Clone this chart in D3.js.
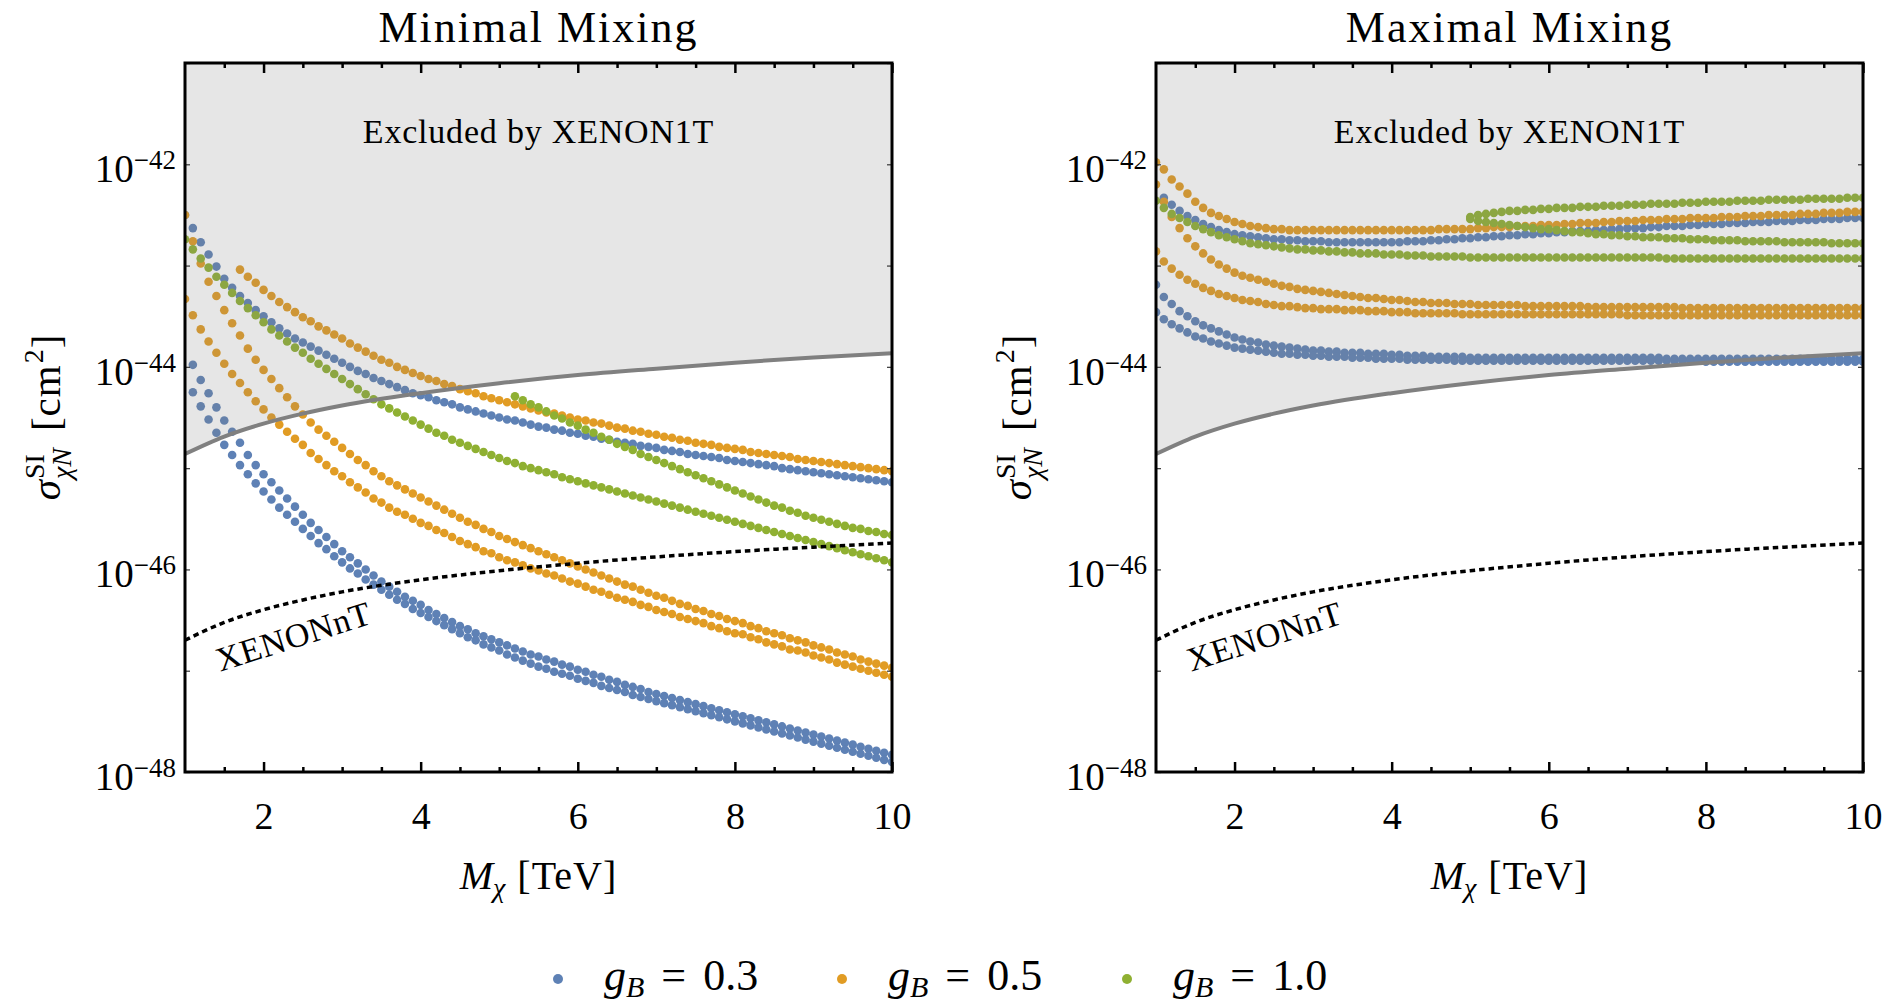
<!DOCTYPE html>
<html>
<head>
<meta charset="utf-8">
<title>Spin-independent cross section: minimal vs maximal mixing</title>
<style>
body {
  margin: 0;
  background: #fff;
}

svg {
  display: block;
}

text {
  font-family: "Liberation Serif", "DejaVu Serif", serif;
  fill: #000;
}

.frame {
  fill: none;
  stroke: #000;
  stroke-width: 3;
}

.xtick line {
  stroke: #000;
  stroke-width: 2.5;
}

.ytick line {
  stroke: #444;
  stroke-width: 1.3;
}
</style>
<script src="https://d3js.org/d3.v7.min.js"></script>
</head>
<body>
<script>
// mass grid of the scan, TeV
const masses = [
  1.0, 1.1, 1.2, 1.3, 1.4, 1.5, 1.6, 1.7, 1.8, 1.9,
  2.0, 2.1, 2.2, 2.3, 2.4, 2.5, 2.6, 2.7, 2.8, 2.9,
  3.0, 3.1, 3.2, 3.3, 3.4, 3.5, 3.6, 3.7, 3.8, 3.9,
  4.0, 4.1, 4.2, 4.3, 4.4, 4.5, 4.6, 4.7, 4.8, 4.9,
  5.0, 5.1, 5.2, 5.3, 5.4, 5.5, 5.6, 5.7, 5.8, 5.9,
  6.0, 6.1, 6.2, 6.3, 6.4, 6.5, 6.6, 6.7, 6.8, 6.9,
  7.0, 7.1, 7.2, 7.3, 7.4, 7.5, 7.6, 7.7, 7.8, 7.9,
  8.0, 8.1, 8.2, 8.3, 8.4, 8.5, 8.6, 8.7, 8.8, 8.9,
  9.0, 9.1, 9.2, 9.3, 9.4, 9.5, 9.6, 9.7, 9.8, 9.9,
  10.0
];

// log10(sigma / cm^2), minimal mixing
const minBlueA = [
  -42.50, -42.63, -42.77, -42.89, -43.01, -43.13, -43.22, -43.30, -43.37, -43.44,
  -43.50, -43.56, -43.62, -43.67, -43.72, -43.76, -43.80, -43.84, -43.88, -43.92,
  -43.96, -44.00, -44.04, -44.07, -44.11, -44.14, -44.17, -44.20, -44.23, -44.26,
  -44.28, -44.30, -44.33, -44.35, -44.37, -44.40, -44.42, -44.44, -44.46, -44.48,
  -44.50, -44.52, -44.53, -44.55, -44.57, -44.59, -44.60, -44.62, -44.63, -44.65,
  -44.66, -44.68, -44.69, -44.71, -44.72, -44.74, -44.75, -44.76, -44.78, -44.79,
  -44.80, -44.82, -44.83, -44.84, -44.86, -44.87, -44.88, -44.89, -44.90, -44.92,
  -44.93, -44.94, -44.95, -44.96, -44.97, -44.98, -45.00, -45.01, -45.02, -45.03,
  -45.04, -45.05, -45.06, -45.07, -45.08, -45.09, -45.10, -45.11, -45.12, -45.13,
  -45.14
];
const minBlueB = [
          -43.98, -44.13, -44.26, -44.40, -44.53, -44.64, -44.75, -44.87, -44.97,
  -45.06, -45.14, -45.22, -45.30, -45.38, -45.46, -45.54, -45.61, -45.68, -45.75,
  -45.82, -45.88, -45.94, -46.00, -46.06, -46.12, -46.17, -46.22, -46.27, -46.31,
  -46.35, -46.40, -46.44, -46.48, -46.52, -46.56, -46.59, -46.63, -46.66, -46.69,
  -46.72, -46.75, -46.78, -46.81, -46.84, -46.86, -46.89, -46.91, -46.94, -46.96,
  -46.99, -47.01, -47.04, -47.06, -47.09, -47.11, -47.14, -47.16, -47.18, -47.21,
  -47.23, -47.25, -47.27, -47.29, -47.31, -47.33, -47.35, -47.37, -47.39, -47.41,
  -47.43, -47.45, -47.47, -47.49, -47.51, -47.53, -47.55, -47.57, -47.59, -47.61,
  -47.63, -47.65, -47.67, -47.69, -47.71, -47.73, -47.75, -47.77, -47.79, -47.81,
  -47.83
];
const minBlueC = [
          -44.25, -44.39, -44.52, -44.65, -44.77, -44.87, -44.97, -45.06, -45.15,
  -45.23, -45.31, -45.39, -45.46, -45.53, -45.60, -45.67, -45.74, -45.80, -45.87,
  -45.93, -45.99, -46.04, -46.10, -46.15, -46.20, -46.25, -46.30, -46.34, -46.39,
  -46.43, -46.47, -46.51, -46.55, -46.59, -46.63, -46.67, -46.70, -46.74, -46.77,
  -46.80, -46.84, -46.87, -46.90, -46.93, -46.96, -46.98, -47.01, -47.03, -47.05,
  -47.08, -47.10, -47.12, -47.15, -47.17, -47.19, -47.21, -47.24, -47.26, -47.28,
  -47.30, -47.32, -47.34, -47.36, -47.38, -47.40, -47.42, -47.44, -47.46, -47.48,
  -47.50, -47.52, -47.54, -47.56, -47.58, -47.60, -47.62, -47.64, -47.66, -47.68,
  -47.70, -47.72, -47.74, -47.76, -47.78, -47.80, -47.82, -47.84, -47.86, -47.88,
  -47.90
];
const minOrangeA = [
                                                          -43.04, -43.11, -43.17,
  -43.24, -43.30, -43.36, -43.41, -43.46, -43.51, -43.55, -43.60, -43.64, -43.68,
  -43.72, -43.77, -43.81, -43.85, -43.89, -43.93, -43.96, -44.00, -44.03, -44.06,
  -44.09, -44.12, -44.14, -44.17, -44.19, -44.22, -44.24, -44.26, -44.29, -44.31,
  -44.33, -44.35, -44.37, -44.39, -44.41, -44.43, -44.45, -44.46, -44.48, -44.50,
  -44.52, -44.53, -44.55, -44.56, -44.58, -44.60, -44.61, -44.63, -44.64, -44.66,
  -44.67, -44.69, -44.70, -44.72, -44.73, -44.75, -44.76, -44.77, -44.79, -44.80,
  -44.81, -44.82, -44.84, -44.85, -44.86, -44.87, -44.88, -44.89, -44.91, -44.92,
  -44.93, -44.94, -44.95, -44.96, -44.97, -44.98, -44.99, -45.00, -45.01, -45.02,
  -45.03
];
const minOrangeB = [
  -42.50, -42.76, -42.98, -43.16, -43.30, -43.44, -43.57, -43.69, -43.82, -43.93,
  -44.03, -44.12, -44.21, -44.30, -44.39, -44.47, -44.55, -44.62, -44.68, -44.74,
  -44.80, -44.86, -44.92, -44.97, -45.03, -45.08, -45.13, -45.17, -45.21, -45.25,
  -45.29, -45.33, -45.37, -45.41, -45.45, -45.49, -45.53, -45.56, -45.60, -45.63,
  -45.67, -45.70, -45.73, -45.76, -45.79, -45.82, -45.85, -45.88, -45.91, -45.94,
  -45.97, -46.00, -46.03, -46.06, -46.09, -46.12, -46.15, -46.17, -46.20, -46.23,
  -46.26, -46.28, -46.31, -46.34, -46.36, -46.39, -46.41, -46.44, -46.46, -46.49,
  -46.51, -46.53, -46.56, -46.58, -46.61, -46.63, -46.65, -46.68, -46.70, -46.72,
  -46.75, -46.77, -46.79, -46.82, -46.84, -46.86, -46.89, -46.91, -46.93, -46.95,
  -46.97
];
const minOrangeC = [
  -43.33, -43.49, -43.63, -43.75, -43.86, -43.97, -44.07, -44.16, -44.25, -44.34,
  -44.42, -44.50, -44.57, -44.64, -44.71, -44.77, -44.85, -44.91, -44.97, -45.03,
  -45.08, -45.14, -45.19, -45.24, -45.30, -45.34, -45.39, -45.43, -45.46, -45.50,
  -45.54, -45.57, -45.61, -45.64, -45.68, -45.72, -45.75, -45.78, -45.82, -45.84,
  -45.88, -45.91, -45.93, -45.96, -45.99, -46.01, -46.04, -46.06, -46.09, -46.12,
  -46.14, -46.17, -46.20, -46.22, -46.25, -46.28, -46.30, -46.32, -46.35, -46.37,
  -46.40, -46.42, -46.44, -46.47, -46.49, -46.51, -46.53, -46.56, -46.58, -46.61,
  -46.63, -46.64, -46.67, -46.69, -46.72, -46.74, -46.76, -46.79, -46.80, -46.82,
  -46.85, -46.87, -46.89, -46.92, -46.94, -46.96, -46.98, -47.00, -47.02, -47.04,
  -47.06
];
const minGreenA = [
  -42.74, -42.84, -42.93, -43.02, -43.11, -43.19, -43.27, -43.35, -43.42, -43.49,
  -43.56, -43.63, -43.69, -43.75, -43.81, -43.86, -43.92, -43.97, -44.02, -44.07,
  -44.12, -44.17, -44.22, -44.27, -44.32, -44.37, -44.41, -44.45, -44.49, -44.53,
  -44.57, -44.61, -44.65, -44.68, -44.72, -44.75, -44.78, -44.81, -44.84, -44.87,
  -44.90, -44.93, -44.95, -44.98, -45.00, -45.02, -45.04, -45.06, -45.09, -45.11,
  -45.13, -45.15, -45.17, -45.19, -45.21, -45.23, -45.25, -45.27, -45.29, -45.31,
  -45.33, -45.35, -45.37, -45.39, -45.41, -45.43, -45.45, -45.47, -45.49, -45.51,
  -45.53, -45.55, -45.57, -45.59, -45.61, -45.63, -45.65, -45.67, -45.69, -45.71,
  -45.73, -45.75, -45.77, -45.79, -45.81, -45.83, -45.85, -45.87, -45.89, -45.91,
  -45.93
];
const minGreenB = [
                  -44.29, -44.33, -44.37, -44.40, -44.44, -44.48, -44.51, -44.55,
  -44.58, -44.62, -44.65, -44.69, -44.72, -44.76, -44.79, -44.82, -44.86, -44.89,
  -44.92, -44.95, -44.98, -45.01, -45.04, -45.07, -45.10, -45.13, -45.16, -45.19,
  -45.22, -45.25, -45.28, -45.31, -45.34, -45.37, -45.39, -45.42, -45.44, -45.47,
  -45.49, -45.51, -45.53, -45.55, -45.57, -45.59, -45.60, -45.62, -45.63, -45.65,
  -45.66
];

// log10(sigma / cm^2), maximal mixing
const maxBlueA = [
          -42.33, -42.40, -42.46, -42.51, -42.55, -42.59, -42.62, -42.65, -42.67,
  -42.69, -42.70, -42.71, -42.72, -42.73, -42.74, -42.74, -42.75, -42.75, -42.76,
  -42.76, -42.76, -42.77, -42.77, -42.77, -42.77, -42.77, -42.77, -42.77, -42.77,
  -42.77, -42.77, -42.76, -42.76, -42.76, -42.75, -42.75, -42.74, -42.74, -42.73,
  -42.73, -42.72, -42.72, -42.71, -42.71, -42.70, -42.70, -42.69, -42.69, -42.68,
  -42.68, -42.67, -42.67, -42.66, -42.66, -42.66, -42.65, -42.65, -42.64, -42.64,
  -42.63, -42.63, -42.63, -42.62, -42.62, -42.61, -42.61, -42.61, -42.60, -42.60,
  -42.59, -42.59, -42.59, -42.58, -42.58, -42.58, -42.57, -42.57, -42.57, -42.56,
  -42.56, -42.56, -42.55, -42.55, -42.55, -42.54, -42.54, -42.54, -42.53, -42.53,
  -42.53
];
const maxBlueB = [
  -43.19, -43.31, -43.38, -43.45, -43.50, -43.55, -43.59, -43.62, -43.65, -43.68,
  -43.71, -43.73, -43.75, -43.76, -43.78, -43.79, -43.80, -43.81, -43.82, -43.83,
  -43.84, -43.84, -43.85, -43.85, -43.86, -43.86, -43.86, -43.87, -43.87, -43.87,
  -43.88, -43.88, -43.89, -43.89, -43.89, -43.90, -43.90, -43.90, -43.90, -43.90,
  -43.91, -43.91, -43.91, -43.91, -43.91, -43.91, -43.91, -43.91, -43.91, -43.91,
  -43.91, -43.91, -43.91, -43.91, -43.91, -43.91, -43.91, -43.91, -43.91, -43.91,
  -43.91, -43.91, -43.91, -43.91, -43.91, -43.92, -43.92, -43.92, -43.92, -43.92,
  -43.92, -43.92, -43.92, -43.92, -43.92, -43.92, -43.92, -43.92, -43.92, -43.92,
  -43.92, -43.92, -43.92, -43.92, -43.92, -43.92, -43.92, -43.92, -43.92, -43.92,
  -43.92
];
const maxBlueC = [
  -43.46, -43.53, -43.58, -43.62, -43.66, -43.70, -43.72, -43.75, -43.77, -43.79,
  -43.81, -43.82, -43.83, -43.84, -43.85, -43.86, -43.87, -43.87, -43.88, -43.88,
  -43.89, -43.89, -43.90, -43.90, -43.90, -43.91, -43.91, -43.91, -43.92, -43.92,
  -43.92, -43.92, -43.93, -43.93, -43.93, -43.93, -43.93, -43.93, -43.94, -43.94,
  -43.94, -43.94, -43.94, -43.94, -43.94, -43.94, -43.94, -43.94, -43.94, -43.94,
  -43.94, -43.94, -43.94, -43.94, -43.94, -43.94, -43.94, -43.94, -43.94, -43.94,
  -43.94, -43.94, -43.94, -43.94, -43.94, -43.94, -43.94, -43.94, -43.94, -43.94,
  -43.95, -43.95, -43.95, -43.95, -43.95, -43.95, -43.95, -43.95, -43.95, -43.95,
  -43.95, -43.95, -43.95, -43.95, -43.95, -43.95, -43.95, -43.95, -43.95, -43.95,
  -43.95
];
const maxOrangeA = [
  -41.98, -42.05, -42.15, -42.22, -42.29, -42.37, -42.43, -42.48, -42.51, -42.54,
  -42.57, -42.59, -42.61, -42.62, -42.63, -42.64, -42.64, -42.65, -42.65, -42.65,
  -42.65, -42.65, -42.65, -42.65, -42.65, -42.65, -42.65, -42.65, -42.65, -42.65,
  -42.65, -42.65, -42.65, -42.65, -42.65, -42.65, -42.64, -42.64, -42.64, -42.64,
  -42.64, -42.63, -42.63, -42.62, -42.62, -42.62, -42.61, -42.61, -42.61, -42.60,
  -42.60, -42.60, -42.59, -42.59, -42.58, -42.58, -42.58, -42.57, -42.57, -42.56,
  -42.56, -42.56, -42.55, -42.55, -42.55, -42.54, -42.54, -42.54, -42.53, -42.53,
  -42.53, -42.53, -42.52, -42.52, -42.52, -42.51, -42.51, -42.51, -42.50, -42.50,
  -42.50, -42.50, -42.49, -42.49, -42.49, -42.48, -42.48, -42.48, -42.47, -42.47,
  -42.47
];
const maxOrangeB = [
  -42.20, -42.37, -42.52, -42.63, -42.73, -42.81, -42.88, -42.94, -42.99, -43.03,
  -43.07, -43.10, -43.12, -43.14, -43.16, -43.18, -43.20, -43.21, -43.23, -43.24,
  -43.25, -43.26, -43.27, -43.28, -43.29, -43.30, -43.31, -43.32, -43.32, -43.33,
  -43.34, -43.34, -43.35, -43.36, -43.36, -43.37, -43.37, -43.37, -43.38, -43.38,
  -43.38, -43.39, -43.39, -43.39, -43.39, -43.39, -43.39, -43.40, -43.40, -43.40,
  -43.40, -43.40, -43.40, -43.40, -43.40, -43.41, -43.41, -43.41, -43.41, -43.41,
  -43.41, -43.41, -43.41, -43.41, -43.41, -43.41, -43.41, -43.42, -43.42, -43.42,
  -43.42, -43.42, -43.42, -43.42, -43.42, -43.42, -43.42, -43.42, -43.42, -43.42,
  -43.42, -43.42, -43.42, -43.42, -43.42, -43.42, -43.42, -43.42, -43.42, -43.42,
  -43.42
];
const maxOrangeC = [
  -42.86, -42.96, -43.03, -43.09, -43.14, -43.18, -43.22, -43.25, -43.28, -43.30,
  -43.32, -43.34, -43.35, -43.36, -43.38, -43.39, -43.40, -43.40, -43.41, -43.42,
  -43.42, -43.43, -43.43, -43.43, -43.44, -43.44, -43.44, -43.45, -43.45, -43.45,
  -43.46, -43.46, -43.46, -43.47, -43.47, -43.47, -43.47, -43.47, -43.47, -43.48,
  -43.48, -43.48, -43.48, -43.48, -43.48, -43.48, -43.48, -43.48, -43.48, -43.48,
  -43.48, -43.48, -43.48, -43.48, -43.48, -43.48, -43.48, -43.48, -43.48, -43.48,
  -43.49, -43.49, -43.49, -43.49, -43.49, -43.49, -43.49, -43.49, -43.49, -43.49,
  -43.49, -43.49, -43.49, -43.49, -43.49, -43.49, -43.49, -43.49, -43.49, -43.49,
  -43.49, -43.49, -43.49, -43.49, -43.49, -43.49, -43.49, -43.49, -43.49, -43.49,
  -43.49
];
const maxGreenA = [
  -42.36, -42.43, -42.49, -42.53, -42.57, -42.61, -42.64, -42.67, -42.70, -42.72,
  -42.74, -42.76, -42.78, -42.79, -42.80, -42.81, -42.82, -42.83, -42.84, -42.84,
  -42.85, -42.85, -42.86, -42.86, -42.87, -42.87, -42.88, -42.88, -42.88, -42.89,
  -42.89, -42.89, -42.90, -42.90, -42.90, -42.91, -42.91, -42.91, -42.91, -42.91,
  -42.92, -42.92, -42.92, -42.92, -42.92, -42.92, -42.92, -42.92, -42.92, -42.92,
  -42.92, -42.92, -42.92, -42.92, -42.92, -42.92, -42.92, -42.92, -42.92, -42.92,
  -42.92, -42.92, -42.92, -42.92, -42.92, -42.93, -42.93, -42.93, -42.93, -42.93,
  -42.93, -42.93, -42.93, -42.93, -42.93, -42.93, -42.93, -42.93, -42.93, -42.93,
  -42.93, -42.93, -42.93, -42.93, -42.93, -42.93, -42.93, -42.93, -42.93, -42.93,
  -42.93
];
// the g_B = 1.0 loop: upper and lower branch, both from 5 TeV
const maxGreenUpper = [
  -42.52, -42.50, -42.49, -42.48, -42.47, -42.46, -42.46, -42.45, -42.45, -42.44,
  -42.44, -42.43, -42.43, -42.43, -42.42, -42.42, -42.42, -42.41, -42.41, -42.41,
  -42.40, -42.40, -42.40, -42.39, -42.39, -42.39, -42.39, -42.38, -42.38, -42.38,
  -42.37, -42.37, -42.37, -42.37, -42.36, -42.36, -42.36, -42.36, -42.35, -42.35,
  -42.35, -42.35, -42.35, -42.34, -42.34, -42.34, -42.34, -42.34, -42.33, -42.33,
  -42.33
];
const maxGreenLower = [
  -42.54, -42.56, -42.57, -42.58, -42.59, -42.60, -42.61, -42.62, -42.63, -42.64,
  -42.64, -42.65, -42.66, -42.67, -42.67, -42.68, -42.69, -42.69, -42.70, -42.70,
  -42.71, -42.71, -42.72, -42.72, -42.72, -42.73, -42.73, -42.73, -42.74, -42.74,
  -42.74, -42.75, -42.75, -42.75, -42.75, -42.76, -42.76, -42.76, -42.76, -42.76,
  -42.77, -42.77, -42.77, -42.77, -42.77, -42.77, -42.78, -42.78, -42.78, -42.78,
  -42.78
];

// experimental limits, sigma in cm^2
const limitMass = [1, 1.5, 2, 2.5, 3, 4, 5, 6, 7, 8, 9, 10];
const xenon1t = [1.38e-45, 2.05e-45, 2.75e-45, 3.45e-45, 4.15e-45, 5.5e-45,
  6.9e-45, 8.3e-45, 9.6e-45, 1.1e-44, 1.24e-44, 1.36e-44];
const xenonnt = [2.0e-47, 3.0e-47, 4.0e-47, 5.0e-47, 6.0e-47, 7.9e-47,
  9.7e-47, 1.15e-46, 1.33e-46, 1.5e-46, 1.66e-46, 1.82e-46];

const panelTitles = ['Minimal Mixing', 'Maximal Mixing'];
const couplings = ['0.3', '0.5', '1.0'];
const xMajor = [2, 4, 6, 8, 10];
const xMinor = [1.5, 2.5, 3, 3.5, 4.5, 5, 5.5, 6.5, 7, 7.5, 8.5, 9, 9.5];
const yDecades = [-48, -47, -46, -45, -44, -43, -42, -41];
const yLabelled = [-48, -46, -44, -42];

const colors = ['#5e81b5', '#e19c24', '#8fb032'];

// [panel, coupling index, first mass, values]
const series = [
  [0, 0, 1.0, minBlueA], [0, 0, 1.1, minBlueB], [0, 0, 1.1, minBlueC],
  [0, 1, 1.7, minOrangeA], [0, 1, 1.0, minOrangeB], [0, 1, 1.0, minOrangeC],
  [0, 2, 1.0, minGreenA], [0, 2, 5.2, minGreenB],
  [1, 0, 1.1, maxBlueA], [1, 0, 1.0, maxBlueB], [1, 0, 1.0, maxBlueC],
  [1, 1, 1.0, maxOrangeA], [1, 1, 1.0, maxOrangeB], [1, 1, 1.0, maxOrangeC],
  [1, 2, 1.0, maxGreenA], [1, 2, 5.0, maxGreenUpper], [1, 2, 5.0, maxGreenLower]
];

const width = 1895, height = 1007;
const plotTop = 63, plotW = 707, plotH = 709;
const panelLeft = [185, 1156];
const dotR = 4.3;

const svg = d3.select('body').append('svg')
  .attr('width', width)
  .attr('height', height);

const x = d3.scaleLinear().domain([1, 10]).range([0, plotW]);
const y = d3.scaleLog().domain([1e-48, 1e-41]).range([plotH, 0]);

panelTitles.forEach((title, k) => {
  const g = svg.append('g')
    .attr('transform', 'translate(' + panelLeft[k] + ',' + plotTop + ')');

  g.append('clipPath').attr('id', 'clip' + k)
    .append('rect').attr('width', plotW).attr('height', plotH);

  const plot = g.append('g').attr('clip-path', 'url(#clip' + k + ')');

  // scan points, blue under orange under green
  [0, 1, 2].forEach(c => {
    series.filter(s => s[0] === k && s[1] === c).forEach(s => {
      const i0 = masses.indexOf(s[2]);
      plot.append('g').selectAll('circle')
        .data(s[3])
        .join('circle')
          .attr('cx', (d, i) => x(masses[i0 + i]))
          .attr('cy', d => y(Math.pow(10, d)))
          .attr('r', dotR)
          .attr('fill', colors[c]);
    });
  });

  const limit = d3.zip(limitMass, xenon1t);
  const nt = d3.zip(limitMass, xenonnt);

  // excluded region, translucent gray on top of the points
  plot.append('path')
    .datum(limit)
    .attr('d', d3.area()
      .x(d => x(d[0]))
      .y0(0)
      .y1(d => y(d[1]))
      .curve(d3.curveMonotoneX))
    .attr('fill', '#808080')
    .attr('fill-opacity', 0.2);

  const line = d3.line()
    .x(d => x(d[0]))
    .y(d => y(d[1]))
    .curve(d3.curveMonotoneX);

  plot.append('path')
    .datum(limit)
    .attr('d', line)
    .attr('fill', 'none')
    .attr('stroke', '#808080')
    .attr('stroke-width', 4);

  plot.append('path')
    .datum(nt)
    .attr('d', line)
    .attr('fill', 'none')
    .attr('stroke', '#000')
    .attr('stroke-width', 3.5)
    .attr('stroke-dasharray', '5.5,4');

  // annotations
  g.append('text')
    .attr('x', plotW / 2)
    .attr('y', 80)
    .attr('text-anchor', 'middle')
    .attr('font-size', 34)
    .attr('letter-spacing', 0.8)
    .text('Excluded by XENON1T');

  g.append('text')
    .attr('transform', 'translate(' + x(2.38) + ',' + y(2.2e-47) + ') rotate(-17.6)')
    .attr('text-anchor', 'middle')
    .attr('dy', '0.35em')
    .attr('font-size', 34)
    .attr('letter-spacing', 0.6)
    .text('XENONnT');

  // x axis: ticks inside on bottom and top
  const bottom = g.append('g').attr('class', 'xtick')
    .attr('transform', 'translate(0,' + plotH + ')')
    .call(d3.axisBottom(x).tickValues(xMajor).tickSize(-10).tickPadding(30).tickFormat(d3.format('d')));
  bottom.append('g')
    .call(d3.axisBottom(x).tickValues(xMinor).tickSize(-5).tickFormat(''));
  bottom.selectAll('.domain').remove();
  bottom.selectAll('text')
    .attr('font-family', '"Liberation Serif", serif')
    .attr('font-size', 38);

  const top = g.append('g').attr('class', 'xtick');
  top.call(d3.axisTop(x).tickValues(xMajor).tickSize(-10).tickFormat(''));
  top.append('g')
    .call(d3.axisTop(x).tickValues(xMinor).tickSize(-5).tickFormat(''));
  top.selectAll('.domain').remove();

  // y axis: decade ticks both sides
  const decadeValues = yDecades.map(e => Math.pow(10, e));
  const left = g.append('g').attr('class', 'ytick')
    .call(d3.axisLeft(y).tickValues(decadeValues).tickSize(-5).tickFormat(''));
  const right = g.append('g').attr('class', 'ytick')
    .attr('transform', 'translate(' + plotW + ',0)')
    .call(d3.axisRight(y).tickValues(decadeValues).tickSize(-5).tickFormat(''));
  left.selectAll('.domain').remove();
  right.selectAll('.domain').remove();

  yLabelled.forEach(e => {
    const t = g.append('text')
      .attr('x', -9)
      .attr('y', y(Math.pow(10, e)) + 17.7)
      .attr('text-anchor', 'end')
      .attr('font-size', 39);
    t.append('tspan').text('10');
    t.append('tspan')
      .attr('dy', -13)
      .attr('font-size', 27)
      .text('\u2212' + Math.abs(e));
  });

  g.append('rect')
    .attr('class', 'frame')
    .attr('width', plotW)
    .attr('height', plotH);

  // title
  g.append('text')
    .attr('x', plotW / 2)
    .attr('y', 42 - plotTop)
    .attr('text-anchor', 'middle')
    .attr('font-size', 44)
    .attr('letter-spacing', 2)
    .text(title);

  // x label
  const xl = g.append('text')
    .attr('x', plotW / 2)
    .attr('y', 889 - plotTop)
    .attr('text-anchor', 'middle')
    .attr('font-size', 40);
  xl.append('tspan').attr('font-style', 'italic').text('M');
  xl.append('tspan').attr('font-style', 'italic').attr('font-size', 28).attr('dy', 8).text('\u03c7');
  xl.append('tspan').attr('dy', -8).attr('dx', 12).attr('letter-spacing', 1).text('[TeV]');

  // y label, rotated
  const yl = svg.append('g')
    .attr('transform', 'translate(' + (panelLeft[k] - 125) + ',' + (plotTop + plotH / 2) + ') rotate(-90)');
  const inner = yl.append('g');
  let pos = 0;
  const sig = inner.append('text').attr('x', pos).attr('font-style', 'italic').attr('font-size', 41).text('\u03c3');
  pos += sig.node().getComputedTextLength() + 1;
  const sup = inner.append('text').attr('x', pos).attr('y', -16).attr('font-size', 28).text('SI');
  const sub = inner.append('text').attr('x', pos).attr('y', 11).attr('font-style', 'italic').attr('font-size', 28).text('\u03c7N');
  pos += Math.max(sup.node().getComputedTextLength(), sub.node().getComputedTextLength()) + 17;
  const cm = inner.append('text').attr('x', pos).attr('font-size', 41).attr('letter-spacing', 1).text('[cm');
  pos += cm.node().getComputedTextLength() + 1;
  const sq = inner.append('text').attr('x', pos).attr('y', -17).attr('font-size', 28).text('2');
  pos += sq.node().getComputedTextLength() + 1;
  const br = inner.append('text').attr('x', pos).attr('font-size', 41).text(']');
  pos += br.node().getComputedTextLength();
  inner.attr('transform', 'translate(' + (-pos / 2) + ',0)');
});

// legend
const legendX = [558, 842, 1127];
couplings.forEach((v, i) => {
  svg.append('circle')
    .attr('cx', legendX[i])
    .attr('cy', 979)
    .attr('r', 5)
    .attr('fill', colors[i]);
  const t = svg.append('text')
    .attr('x', legendX[i] + 46)
    .attr('y', 990)
    .attr('font-size', 44);
  t.append('tspan').attr('font-style', 'italic').text('g');
  t.append('tspan').attr('font-style', 'italic').attr('font-size', 30).attr('dy', 7).text('B');
  t.append('tspan').attr('dy', -7).attr('dx', 17).text('=');
  t.append('tspan').attr('dx', 17).text(v);
});
</script>
</body>
</html>
